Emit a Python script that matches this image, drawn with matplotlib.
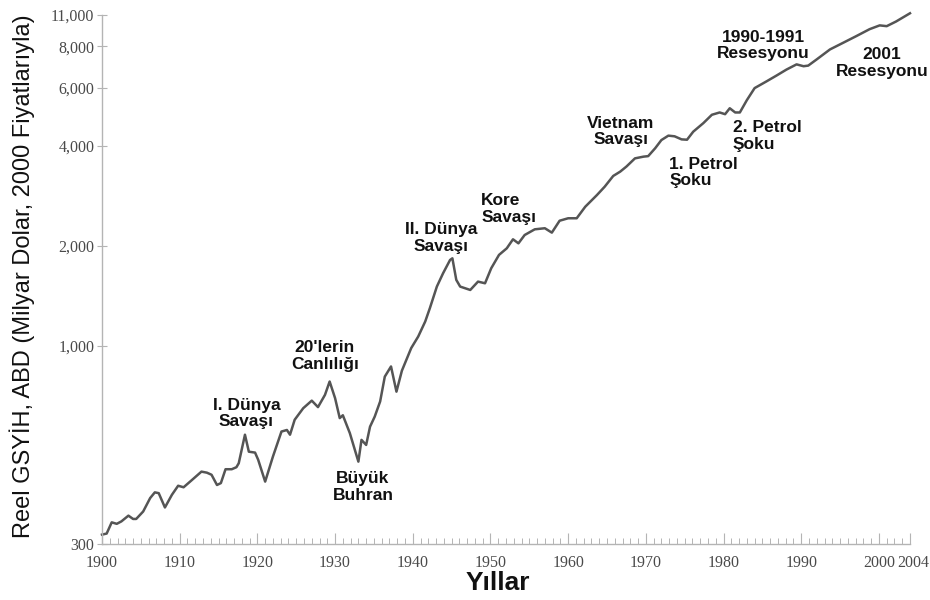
import matplotlib
matplotlib.use("Agg")
import matplotlib.pyplot as plt
import matplotlib.transforms as mtransforms
from matplotlib.ticker import FixedLocator, FixedFormatter, MultipleLocator, NullLocator

years = [1900.0, 1900.6, 1901.25, 1901.9, 1902.5, 1903.4, 1904.0, 1904.4, 1905.3, 1906.2,
         1906.8, 1907.3, 1908.1, 1909.0, 1909.8, 1910.5, 1911.5, 1912.8, 1913.5, 1914.1,
         1914.8, 1915.3, 1915.9, 1916.7, 1917.3, 1917.6, 1918.4, 1918.9, 1919.7, 1920.1,
         1921.0, 1922.0, 1923.1, 1923.8, 1924.2, 1924.8, 1925.9, 1927.0, 1927.8, 1928.7,
         1929.3, 1930.0, 1930.6, 1931.0, 1931.9, 1933.0, 1933.4, 1934.0, 1934.5, 1935.1,
         1935.8, 1936.4, 1937.2, 1937.9, 1938.6, 1939.8, 1940.7, 1941.6, 1942.2, 1943.1,
         1943.9, 1944.8, 1945.1, 1945.6, 1946.1, 1947.4, 1948.4, 1949.3, 1950.1, 1951.1,
         1952.1, 1952.9, 1953.6, 1954.4, 1955.7, 1957.0, 1957.9, 1958.9, 1960.0, 1961.1,
         1962.2, 1963.7, 1964.7, 1965.8, 1966.7, 1967.5, 1968.6, 1969.7, 1970.3, 1971.2,
         1972.0, 1972.9, 1973.7, 1974.6, 1975.3, 1976.1, 1977.4, 1978.5, 1979.5, 1980.2,
         1980.8, 1981.5, 1982.1, 1983.0, 1984.0, 1985.5, 1986.8, 1988.1, 1989.4, 1990.3,
         1990.9, 1992.0, 1993.7, 1995.4, 1997.1, 1998.8, 2000.1, 2001.0, 2002.2, 2004.0]
gdp = [270, 272, 294, 291, 296, 308, 301, 301, 317, 348,
       362, 360, 326, 356, 379, 375, 393, 418, 415, 409,
       381, 386, 425, 425, 431, 443, 540, 480, 477, 454,
       390, 464, 552, 558, 540, 599, 649, 684, 654, 712,
       781, 696, 606, 618, 546, 448, 521, 503, 571, 612,
       680, 808, 867, 728, 842, 985, 1067, 1184, 1299, 1509,
       1655, 1815, 1836, 1581, 1509, 1474, 1562, 1544, 1714, 1880,
       1968, 2095, 2037, 2158, 2245, 2262, 2194, 2383, 2424, 2424,
       2626, 2847, 3017, 3251, 3350, 3470, 3673, 3717, 3730, 3940,
       4170, 4300, 4280, 4190, 4180, 4420, 4690, 4970, 5050, 4990,
       5200, 5050, 5050, 5500, 5980, 6260, 6520, 6800, 7050, 6960,
       6990, 7300, 7820, 8190, 8580, 9000, 9240, 9190, 9490, 10050]

x_ticks = [1900, 1910, 1920, 1930, 1940, 1950, 1960, 1970, 1980, 1990, 2000, 2004]
x_labels = ["1900", "1910", "1920", "1930", "1940", "1950", "1960", "1970", "1980",
            "1990", "2000", "2004"]
YMIN, YMAX = 253, 9930
y_ticks = [YMIN, 1000, 2000, 4000, 6000, 8000, YMAX]
y_labels = ["300", "1,000", "2,000", "4,000", "6,000", "8,000", "11,000"]

# event labels: (text, year, value, alignment)
events = [
    ("I. Dünya\nSavaşı", 1918.6, 626, "center"),
    ("20'lerin\nCanlılığı", 1928.7, 933, "center"),
    ("Büyük\nBuhran", 1933.6, 375, "center"),
    ("II. Dünya\nSavaşı", 1943.6, 2115, "center"),
    ("Kore\nSavaşı", 1948.8, 2585, "left"),
    ("Vietnam\nSavaşı", 1966.8, 4426, "center"),
    ("1. Petrol\nŞoku", 1973.0, 3332, "left"),
    ("2. Petrol\nŞoku", 1981.2, 4290, "left"),
    ("1990-1991\nResesyonu", 1985.1, 8037, "center"),
    ("2001\nResesyonu", 2000.4, 7118, "center"),
]

AXIS_C = "#b4b4b4"
TICK_TXT = "#4a4a4a"
LINE_C = "#555555"
SANS = ["Liberation Sans", "DejaVu Sans"]
SERIF = ["Liberation Serif", "DejaVu Serif"]

fig = plt.figure(figsize=(9.3, 6.0), dpi=100)
ax = fig.add_axes([102 / 930, 1 - 544 / 600, 808 / 930, 529 / 600])

ax.plot(years, gdp, color=LINE_C, lw=1.8, clip_on=False, solid_joinstyle="round")
ax.set_yscale("log")
ax.set_xlim(1900, 2004)
ax.set_ylim(YMIN, YMAX)

for s in ["top", "right"]:
    ax.spines[s].set_visible(False)
for s in ["left", "bottom"]:
    ax.spines[s].set_color(AXIS_C)
    ax.spines[s].set_linewidth(1.0)

ax.yaxis.set_major_locator(FixedLocator(y_ticks))
ax.yaxis.set_major_formatter(FixedFormatter(y_labels))
ax.yaxis.set_minor_locator(NullLocator())
ax.xaxis.set_major_locator(FixedLocator(x_ticks))
ax.xaxis.set_major_formatter(FixedFormatter(x_labels))
ax.xaxis.set_minor_locator(MultipleLocator(1))

ax.tick_params(axis="y", which="major", direction="inout", length=7, width=0.8,
               color=AXIS_C, pad=2, labelsize=11.5, labelcolor=TICK_TXT)
ax.tick_params(axis="x", which="major", direction="in", length=8, width=0.8,
               color=AXIS_C, pad=8, labelsize=11.5, labelcolor=TICK_TXT)
ax.tick_params(axis="x", which="minor", direction="in", length=4.5, width=0.7,
               color=AXIS_C)
for lab in ax.get_xticklabels() + ax.get_yticklabels():
    lab.set_family(SERIF)

# the last year label sits a little to the right of its tick in the reference
last = ax.get_xticklabels()[-1]
last.set_transform(last.get_transform() +
                   mtransforms.ScaledTranslation(3 / 100, 0, fig.dpi_scale_trans))

for txt, yr, val, ha in events:
    ax.text(yr, val, txt, ha=ha, va="center", family=SANS, fontsize=12.5,
            fontweight="bold", color="#111111", linespacing=1.15)

fig.text(498 / 930, 1 - 583 / 600, "Yıllar", ha="center", va="center", family=SANS,
         fontsize=19, fontweight="bold", color="#111111")
fig.text(22 / 930, 1 - 276 / 600, "Reel GSYİH, ABD (Milyar Dolar, 2000 Fiyatlarıyla)",
         ha="center", va="center", rotation=90, family=SANS, fontsize=17,
         color="#111111")

fig.savefig("out.png", dpi=100)
